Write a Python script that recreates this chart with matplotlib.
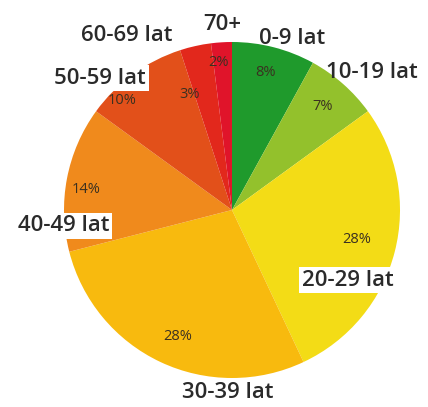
import matplotlib
matplotlib.use("Agg")
import matplotlib.pyplot as plt

categories = ["0-9 lat", "10-19 lat", "20-29 lat", "30-39 lat", "40-49 lat", "50-59 lat", "60-69 lat", "70+"]
values = [8, 7, 28, 28, 14, 10, 3, 2]
colors = ["#1f9a2c", "#93c12c", "#f3dc16", "#f8ba0e", "#f08a1c", "#e2501a", "#e2281c", "#e0142a"]

# label positions in pixels (reference image coords)
label_px = [(292, 38), (372, 73), (348, 280), (228, 392), (64, 226), (100, 78), (127, 36), (222, 25)]
pct_px = [(265, 73), (323, 106), (357, 240), (178, 337), (86, 190), (122, 101), (190, 95), (218, 62)]
boxed = {"20-29 lat", "40-49 lat", "50-59 lat"}

W, H = 428, 407
cx, cy, r = 232, 210, 168

fig = plt.figure(figsize=(W / 100, H / 100), dpi=100)
ax = fig.add_axes([0, 0, 1, 1])

ax.pie(values, colors=colors, startangle=90, counterclock=False, radius=1.0,
       wedgeprops=dict(linewidth=0))
ax.set_aspect("auto")
ax.set_xlim((0 - cx) / r, (W - cx) / r)
ax.set_ylim((cy - H) / r, (cy - 0) / r)
ax.axis("off")

def to_data(p):
    return ((p[0] - cx) / r, (cy - p[1]) / r)

for cat, v, lp, pp in zip(categories, values, label_px, pct_px):
    x, y = to_data(lp)
    kw = {}
    if cat in boxed:
        kw["bbox"] = dict(facecolor="white", edgecolor="none", pad=2)
    ax.text(x, y, cat, ha="center", va="center", fontsize=16, color="#2a2a2a",
            family="Open Sans", fontweight="semibold", **kw)
    x, y = to_data(pp)
    ax.text(x, y, f"{v}%", ha="center", va="center", fontsize=10.5, color="#3a3020",
            family="Open Sans")

fig.savefig("out.png", dpi=100)
